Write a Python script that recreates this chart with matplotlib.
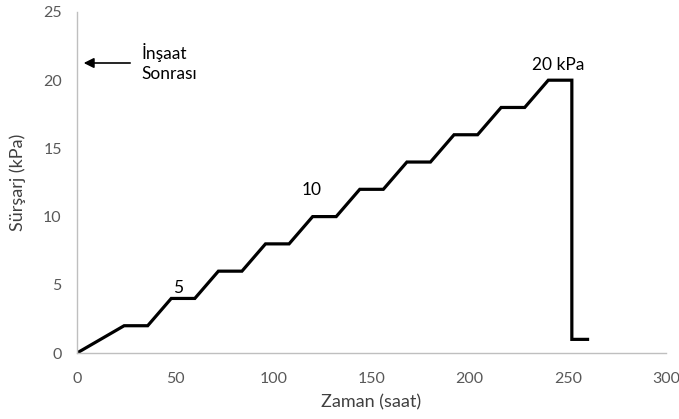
from matplotlib import pyplot as plt

# time (hours) vs surcharge (kPa)
zaman = [0, 24, 36, 48, 60, 72, 84, 96, 108, 120, 132, 144, 156, 168, 180,
         192, 204, 216, 228, 240, 252, 252, 260]
surcharge = [0, 2, 2, 4, 4, 6, 6, 8, 8, 10, 10, 12, 12, 14, 14,
             16, 16, 18, 18, 20, 20, 1, 1]

x_ticks = [0, 50, 100, 150, 200, 250, 300]
y_ticks = [0, 5, 10, 15, 20, 25]

plt.rcParams['font.family'] = ['Lato', 'DejaVu Sans']

fig = plt.figure(figsize=(6.79, 4.19), dpi=100)
ax = fig.add_axes([0.1134, 0.1575, 0.8676, 0.8139])

ax.plot(zaman, surcharge, color='black', linewidth=2.3, solid_joinstyle='miter')

ax.set_xlim(0, 300)
ax.set_ylim(0, 25)
ax.set_xticks(x_ticks)
ax.set_yticks(y_ticks)
ax.tick_params(length=0, labelsize=11.5, labelcolor='#595959')
ax.tick_params(axis='x', pad=14)
ax.tick_params(axis='y', pad=11)

for side in ['top', 'right']:
    ax.spines[side].set_visible(False)
for side in ['left', 'bottom']:
    ax.spines[side].set_color('#bfbfbf')
    ax.spines[side].set_linewidth(1)

ax.set_xlabel('Zaman (saat)', fontsize=13, color='#404040', labelpad=6)
ax.set_ylabel('Sürşarj (kPa)', fontsize=13, color='#404040', labelpad=12)

ax.annotate('', xy=(2.0, 21.26), xytext=(28.5, 21.26),
            arrowprops=dict(arrowstyle='-|>', color='black', lw=1.2,
                            mutation_scale=15))
ax.text(33.0, 21.3, 'İnşaat\nSonrası', fontsize=12.5, ha='left', va='center',
        linespacing=1.3)

ax.text(51.5, 4.8, '5', fontsize=12.5, ha='center', va='center')
ax.text(119.5, 11.95, '10', fontsize=12.5, ha='center', va='center')
ax.text(245, 21.1, '20 kPa', fontsize=12.5, ha='center', va='center')

fig.savefig('out.png', dpi=100)
